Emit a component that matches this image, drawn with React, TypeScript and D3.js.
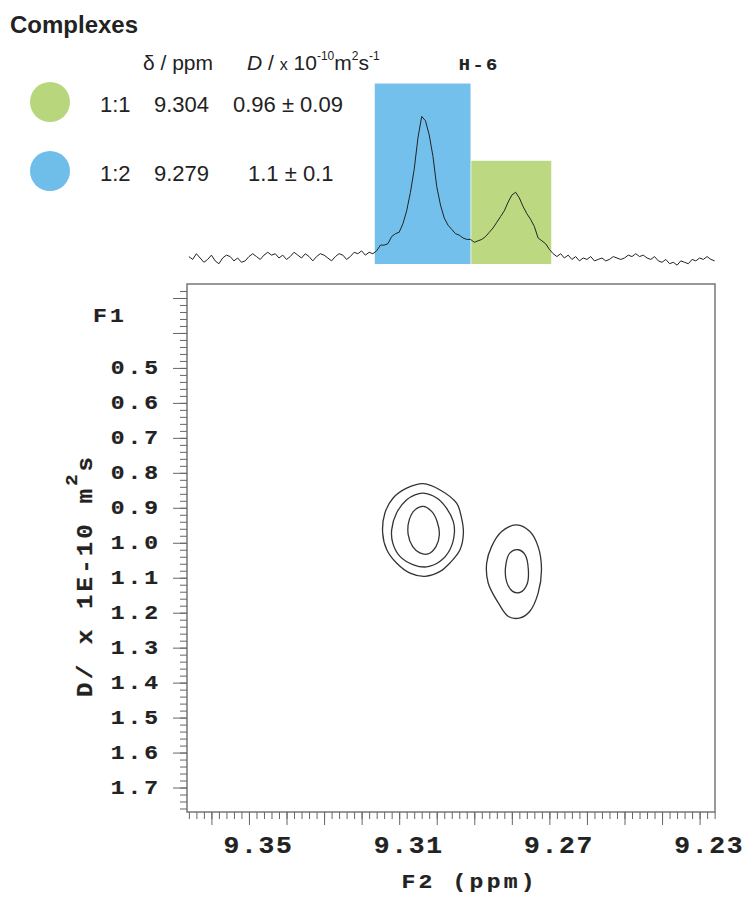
import * as d3 from "d3";
import React from "react";
import { useRef, useEffect } from "react";

// 1D projection (F2), intensity, 0.001 ppm steps
const noiseLeftStart = 9.366;
const noiseLeft = [1, -1, 3, 0, -3, -1, 2, -2, -4, 0, 2, 1, -2, 0, -3, -2, 1, 3, 1, -1, 2, 4, 2, 3, 0, 2, -1, 1, 4, 2, 0, 3, 1, -2, 1, 3, 2, 0, -2, 1, 3, 2, -1, 1, 4, 3, 5, 2, 4];
const peakStart = 9.317;
const peakValues = [3, 5, 9, 9, 10, 15, 17, 18, 24, 33, 46, 62, 84, 99, 96, 86, 71, 50, 37, 28, 23, 20, 17, 16, 14, 13, 13, 11, 12, 13, 15, 18, 21, 25, 29, 33, 39, 44, 46, 42, 36, 31, 27, 22, 14, 12, 10, 6, 3];
const noiseRightStart = 9.268;
const noiseRight = [1, 3, 0, 2, -1, 1, -2, 0, -1, 1, -2, -1, 0, -2, -1, 1, 0, -1, 0, 2, 1, 3, 1, 2, 0, -1, 1, -2, -3, -1, -4, -3, -5, -2, -3, -4, -1, -2, 0, -1, 1, -1, -2];
const ppmStep = 0.001;

// highlighted regions [from ppm, to ppm, top intensity]
const regions = [
  { from: 9.3165, to: 9.291, top: 122, color: "#74c0ec" },
  { from: 9.2908, to: 9.2695, top: 68, color: "#bcd982" },
];

// contour rings as [ppm, D] pairs
const contours = [
  [[9.3036, 0.831], [9.2991, 0.849], [9.2947, 0.887], [9.2934, 0.929], [9.2929, 0.972], [9.2938, 1.02], [9.2965, 1.058], [9.2991, 1.082], [9.3031, 1.096], [9.3071, 1.087], [9.3107, 1.058], [9.3133, 1.02], [9.3144, 0.972], [9.3138, 0.915], [9.3116, 0.872], [9.308, 0.844]],
  [[9.3036, 0.858], [9.3, 0.872], [9.2974, 0.901], [9.2956, 0.939], [9.2953, 0.972], [9.2965, 1.02], [9.2991, 1.053], [9.3027, 1.069], [9.3062, 1.063], [9.3098, 1.039], [9.3117, 1.001], [9.312, 0.963], [9.3107, 0.915], [9.308, 0.877], [9.3058, 0.863]],
  [[9.3036, 0.896], [9.3013, 0.911], [9.2999, 0.939], [9.2993, 0.977], [9.3002, 1.011], [9.3023, 1.032], [9.3045, 1.029], [9.3064, 1.011], [9.3076, 0.977], [9.3073, 0.934], [9.3058, 0.906]],
  [[9.2787, 0.949], [9.2752, 0.968], [9.273, 1.011], [9.2721, 1.077], [9.273, 1.144], [9.2752, 1.196], [9.2778, 1.215], [9.2809, 1.211], [9.2836, 1.172], [9.2863, 1.115], [9.2867, 1.058], [9.2854, 1.011], [9.2827, 0.968]],
  [[9.2783, 1.02], [9.2765, 1.034], [9.2756, 1.077], [9.276, 1.12], [9.2778, 1.142], [9.2798, 1.139], [9.2814, 1.111], [9.2816, 1.063], [9.2805, 1.029]],
];

const xLabels = [9.35, 9.31, 9.27, 9.23];
const yLabels = [0.5, 0.6, 0.7, 0.8, 0.9, 1.0, 1.1, 1.2, 1.3, 1.4, 1.5, 1.6, 1.7];

const legendRows = [
  { ratio: "1:1", shift: "9.304", diff: "0.96 ± 0.09", color: "#b8d77c" },
  { ratio: "1:2", shift: "9.279", diff: "1.1 ± 0.1", color: "#6fbde9" },
];

const mono = "'Liberation Mono', 'DejaVu Sans Mono', monospace";
const sans = "'Liberation Sans', Arial, sans-serif";

// bold "plotter" text: mono font, slightly stretched, letter-spaced
function wideText(sel, x, y, txt, size, sx, ls, anchor = "start", rotate = 0) {
  const shift = anchor === "end" ? ls : anchor === "middle" ? ls / 2 : 0;
  const g = sel.append("g")
    .attr("transform", `translate(${x},${y}) rotate(${rotate}) scale(${sx},1)`);
  return g.append("text")
    .attr("x", shift)
    .attr("text-anchor", anchor)
    .attr("letter-spacing", ls)
    .attr("font-family", mono).attr("font-weight", "bold").attr("font-size", size)
    .attr("fill", "#222").attr("stroke", "#222").attr("stroke-width", 0.2)
    .text(txt);
}

export default function App() {
  const ref = useRef(null);
  const width = 745, height = 897;
  const box = { left: 187, right: 715, top: 284, bottom: 812 };

  useEffect(() => {
    const svg = d3.select(ref.current);
    svg.selectAll("*").remove();

    const x = d3.scaleLinear().domain([9.3665, 9.2259]).range([box.left, box.right]);
    const y = d3.scaleLinear().domain([0.26, 1.77]).range([box.top, box.bottom]);
    const yI = d3.scaleLinear().domain([0, 100]).range([258, 115]);

    // legend
    svg.append("text").attr("x", 10).attr("y", 33)
      .attr("font-family", sans).attr("font-weight", "bold").attr("font-size", 24)
      .attr("fill", "#222").text("Complexes");

    svg.append("text").attr("x", 143).attr("y", 70)
      .attr("font-family", sans).attr("font-size", 21).attr("fill", "#222").text("δ / ppm");

    const hd = svg.append("text").attr("x", 247).attr("y", 70)
      .attr("font-family", sans).attr("font-size", 21).attr("fill", "#222");
    hd.append("tspan").attr("font-style", "italic").text("D");
    hd.append("tspan").text(" / ");
    hd.append("tspan").attr("font-size", 16).text("x");
    hd.append("tspan").text(" 10");
    hd.append("tspan").attr("font-size", 12).attr("dy", -10).text("-10");
    hd.append("tspan").attr("dy", 10).text("m");
    hd.append("tspan").attr("font-size", 12).attr("dy", -10).text("2");
    hd.append("tspan").attr("dy", 10).text("s");
    hd.append("tspan").attr("font-size", 12).attr("dy", -10).text("-1");

    legendRows.forEach((r, i) => {
      const cy = 102 + i * 69;
      svg.append("circle").attr("cx", 50).attr("cy", cy).attr("r", 20).attr("fill", r.color);
      const g = svg.append("g").attr("font-family", sans).attr("font-size", 22).attr("fill", "#222");
      g.append("text").attr("x", 100).attr("y", cy + 10).text(r.ratio);
      g.append("text").attr("x", 154).attr("y", cy + 10).text(r.shift);
      g.append("text").attr("x", i === 0 ? 233 : 248).attr("y", cy + 10).text(r.diff);
    });

    wideText(svg, 478, 70, "H-6", 17, 1.1, 2.2, "middle");

    // coloured regions under the 1D trace
    svg.selectAll("rect.region").data(regions).enter().append("rect")
      .attr("x", (d) => x(d.from))
      .attr("width", (d) => x(d.to) - x(d.from))
      .attr("y", (d) => yI(d.top))
      .attr("height", (d) => yI(-4.2) - yI(d.top))
      .attr("fill", (d) => d.color);

    // 1D trace
    const pts = [];
    noiseLeft.forEach((v, i) => pts.push([noiseLeftStart - i * ppmStep, v]));
    peakValues.forEach((v, i) => pts.push([peakStart - i * ppmStep, v]));
    noiseRight.forEach((v, i) => pts.push([noiseRightStart - i * ppmStep, v]));
    const line = d3.line().x((d) => x(d[0])).y((d) => yI(d[1]));
    svg.append("path").attr("d", line(pts)).attr("fill", "none")
      .attr("stroke", "#222").attr("stroke-width", 1);

    // plot frame
    svg.append("rect").attr("x", box.left).attr("y", box.top)
      .attr("width", box.right - box.left).attr("height", box.bottom - box.top)
      .attr("fill", "none").attr("stroke", "#777").attr("stroke-width", 1.5);

    // bottom axis: minor + major ticks
    const xMinor = d3.range(9.366, 9.2259, -0.002).map((v) => +v.toFixed(3));
    const xMajor = d3.range(9.36, 9.2259, -0.01).map((v) => +v.toFixed(2));
    svg.append("g").attr("transform", `translate(0,${box.bottom})`)
      .call(d3.axisBottom(x).tickValues(xMinor).tickSize(7).tickFormat(() => ""))
      .call((g) => g.select(".domain").remove())
      .call((g) => g.selectAll("line").attr("stroke", "#666"));
    svg.append("g").attr("transform", `translate(0,${box.bottom})`)
      .call(d3.axisBottom(x).tickValues(xMajor).tickSize(13).tickFormat(() => ""))
      .call((g) => g.select(".domain").remove())
      .call((g) => g.selectAll("line").attr("stroke", "#666"));

    // decimal point sits on the tick
    const xfs = 24, xsx = 1.1, xls = 1.5, xadv = (xfs * 0.6 + xls) * xsx;
    xLabels.forEach((d) => wideText(svg, x(d) - 1.5 * xadv + (xls * xsx) / 2, 853, d.toFixed(2), xfs, xsx, xls));

    // left axis
    const yMinor = d3.range(0.28, 1.77, 0.02).map((v) => +v.toFixed(2));
    const yMajor = d3.range(0.3, 1.75, 0.1).map((v) => +v.toFixed(1));
    svg.append("g").attr("transform", `translate(${box.left},0)`)
      .call(d3.axisLeft(y).tickValues(yMinor).tickSize(7).tickFormat(() => ""))
      .call((g) => g.select(".domain").remove())
      .call((g) => g.selectAll("line").attr("stroke", "#666"));
    svg.append("g").attr("transform", `translate(${box.left},0)`)
      .call(d3.axisLeft(y).tickValues(yMajor).tickSize(14).tickFormat(() => ""))
      .call((g) => g.select(".domain").remove())
      .call((g) => g.selectAll("line").attr("stroke", "#666"));

    yLabels.forEach((d) => wideText(svg, 158, y(d) + 6.5, d.toFixed(1), 20, 1.15, 2.5, "end"));

    wideText(svg, 93, 322, "F1", 20, 1.15, 2.8);

    // axis titles
    wideText(svg, 468, 888, "F2 (ppm)", 20, 1.15, 2.8, "middle");

    const yt = wideText(svg, 92, 577, "", 22, 1.1, 2.8, "middle", -90);
    yt.append("tspan").text("D/ x 1E-10 m");
    yt.append("tspan").attr("dy", -15).attr("font-size", 17).text("2");
    yt.append("tspan").attr("dy", 15).text("s");

    // contours
    const ring = d3.line().curve(d3.curveCatmullRomClosed.alpha(0.5))
      .x((d) => x(d[0])).y((d) => y(d[1]));
    svg.selectAll("path.contour").data(contours).enter().append("path")
      .attr("d", (d) => ring(d))
      .attr("fill", "none").attr("stroke", "#333").attr("stroke-width", 1.3);
  }, []);

  return (
    <svg
      ref={ref}
      width={width}
      height={height}
      style={{ position: "absolute", left: 0, top: 0, background: "#fff" }}
    />
  );
}
